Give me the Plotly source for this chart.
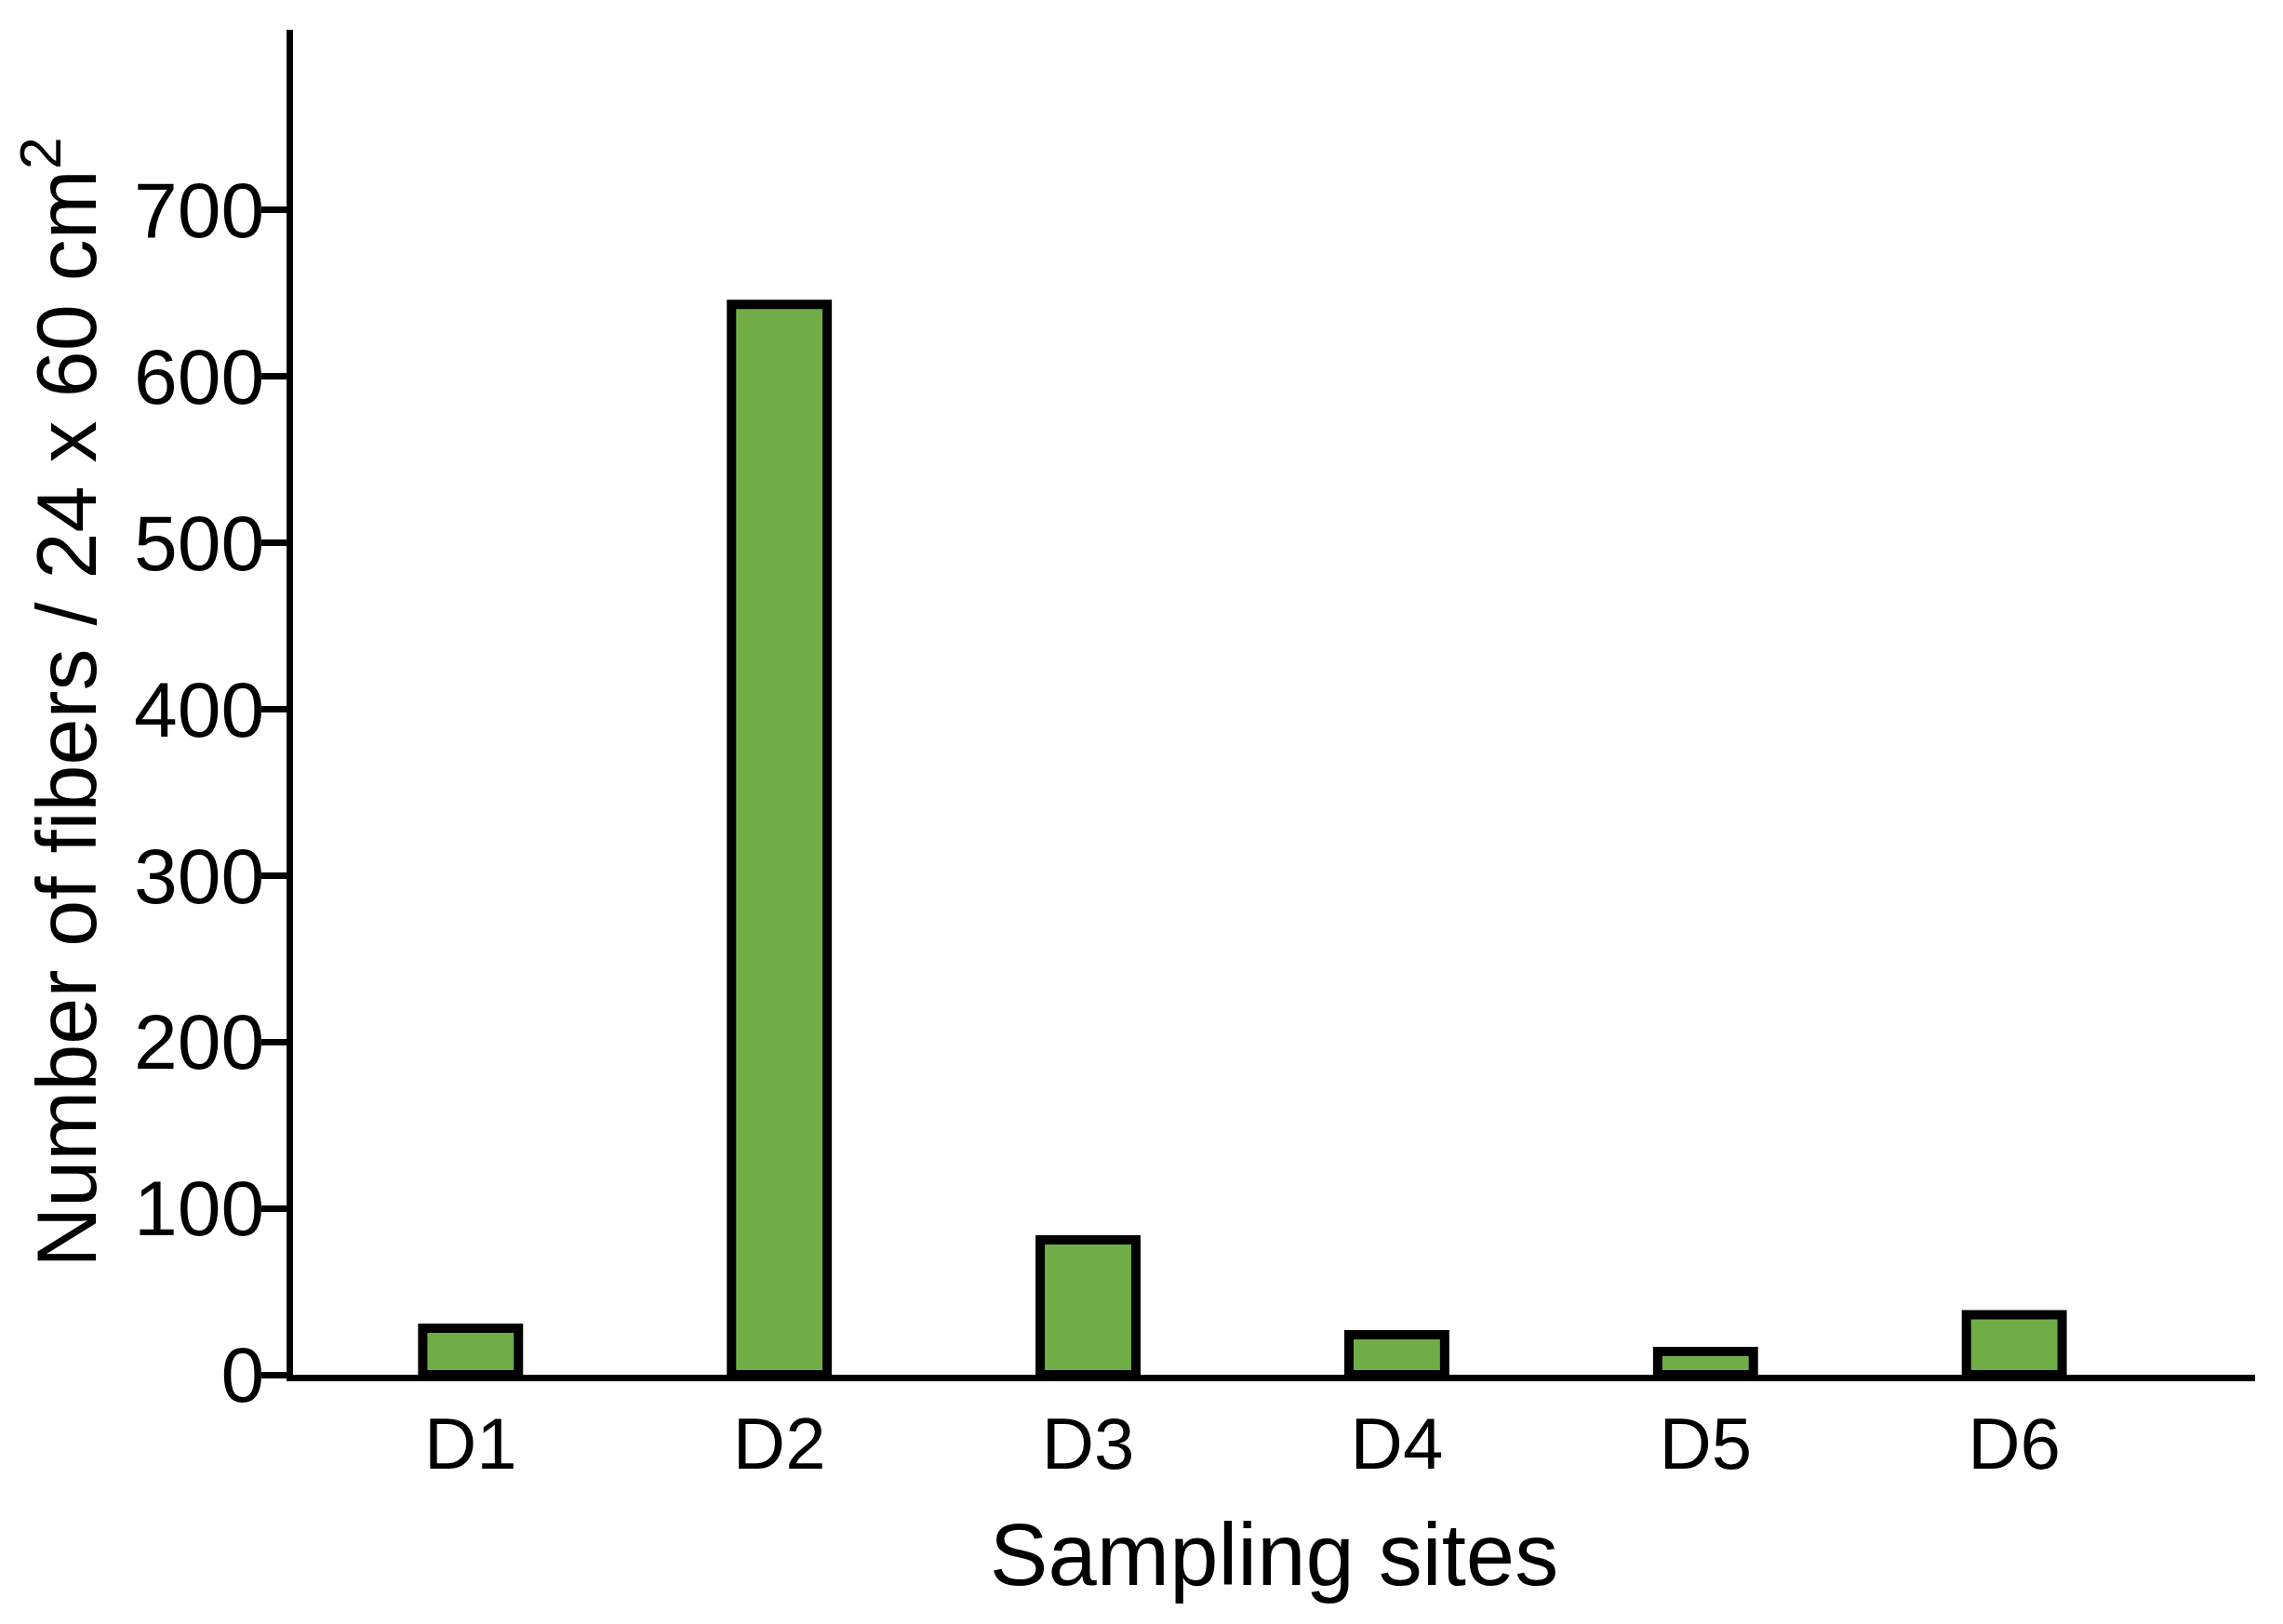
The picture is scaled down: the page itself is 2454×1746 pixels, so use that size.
import plotly.graph_objects as go

sites = ["D1", "D2", "D3", "D4", "D5", "D6"]
fibers = [28, 643, 81, 24, 14, 36]
y_ticks = [0, 100, 200, 300, 400, 500, 600, 700]

fig = go.Figure()
fig.add_trace(go.Bar(
    x=sites, y=fibers, width=0.31,
    marker=dict(color="#70AD47", line=dict(color="black", width=10)),
))

font = "Liberation Sans, Arial, sans-serif"
fig.update_layout(
    width=2454, height=1746,
    paper_bgcolor="white", plot_bgcolor="white",
    margin=dict(l=307, r=38, t=24, b=276),
    showlegend=False,
    font=dict(family=font, color="black"),
)
fig.update_xaxes(
    range=[-0.575, 5.78],
    showline=True, linecolor="black", linewidth=7,
    ticks="",
    tickfont=dict(size=78, family=font),
    title=dict(text="Sampling sites", font=dict(size=94, family=font), standoff=46),
    showgrid=False, zeroline=False,
)
fig.update_yaxes(
    range=[0, 808],
    tickvals=y_ticks,
    showline=True, linecolor="black", linewidth=7,
    ticks="outside", ticklen=27, tickwidth=7, tickcolor="black",
    ticklabelstandoff=-20,
    tickfont=dict(size=84, family=font),
    title=dict(text="Number of fibers / 24 x 60 cm<sup>2</sup>", font=dict(size=90, family=font), standoff=14),
    showgrid=False, zeroline=False,
)
fig.write_html("out.html")
